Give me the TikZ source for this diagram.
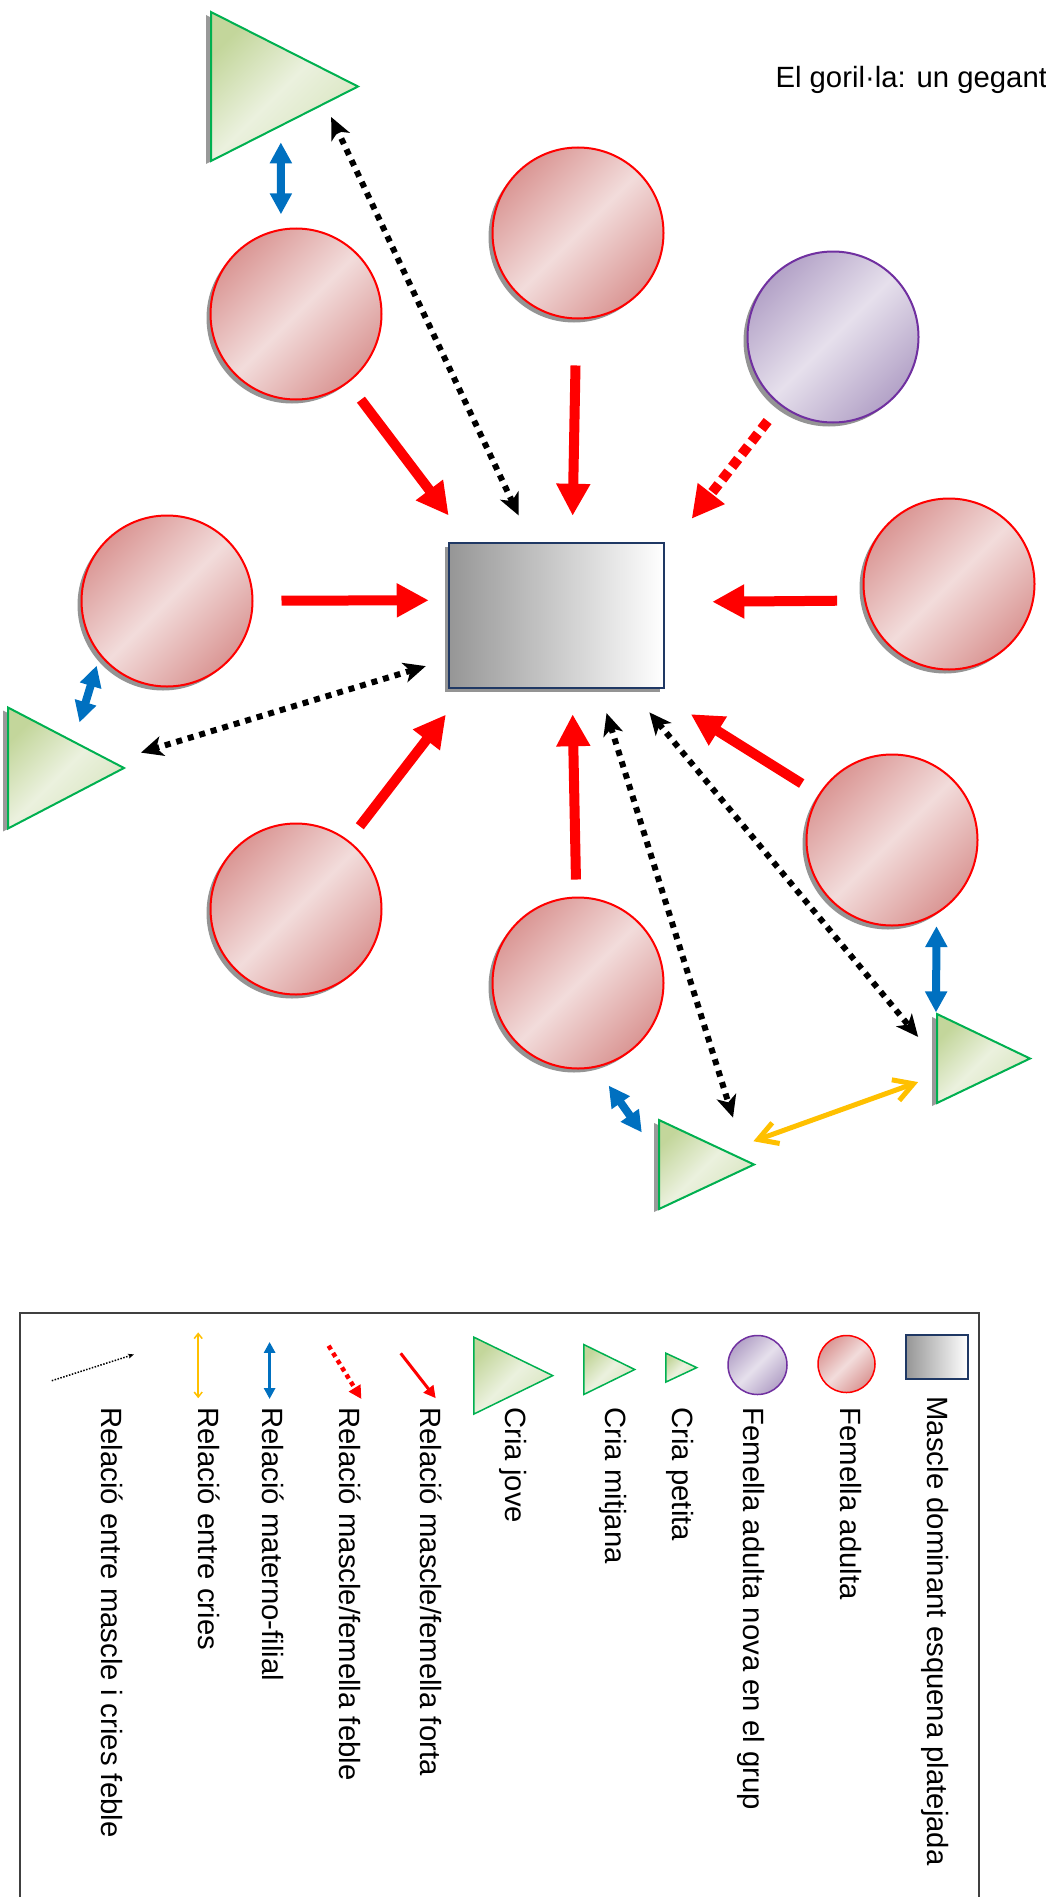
\documentclass[tikz,border=0pt]{standalone}
\usepackage{fontspec}
\setmainfont{Liberation Sans}
\usepackage{tikz}
\usetikzlibrary{shapes.geometric,arrows.meta,shadows,calc}
\definecolor{rosafosc}{RGB}{218,150,148}
\definecolor{rosaclar}{RGB}{242,220,219}
\definecolor{lilafosc}{RGB}{179,162,199}
\definecolor{lilaclar}{RGB}{230,224,236}
\definecolor{lilavora}{RGB}{112,48,160}
\definecolor{verdfosc}{RGB}{195,214,155}
\definecolor{verdclar}{RGB}{235,241,222}
\definecolor{verdmig}{RGB}{215,228,189}
\definecolor{verdvora}{RGB}{0,176,80}
\definecolor{blaumare}{RGB}{0,112,192}
\definecolor{groc}{RGB}{255,192,0}
\definecolor{blaufosc}{RGB}{31,56,100}
\definecolor{grisfosc}{RGB}{150,150,150}

\begin{document}
\begin{tikzpicture}[x=1pt,y=-1pt,
  ombra/.style={drop shadow={shadow xshift=-4pt,shadow yshift=-4pt,fill=black!42,opacity=1}},
  femella/.style={circle,draw=red,line width=2pt,inner sep=0pt,
    top color=rosafosc,bottom color=rosafosc,middle color=rosaclar,shading angle=45},
  nova/.style={circle,draw=lilavora,line width=2pt,inner sep=0pt,
    top color=lilafosc,bottom color=lilafosc,middle color=lilaclar,shading angle=45},
  mascle/.style={rectangle,draw=blaufosc,line width=2.5pt,inner sep=0pt,
    left color=grisfosc,right color=white},
  cria/.style={isosceles triangle,isosceles triangle stretches,draw=verdvora,line width=2pt,
    inner sep=0pt,anchor=lower side,
    top color=verdfosc,bottom color=verdmig,middle color=verdclar,shading angle=45},
  ombracria/.style={drop shadow={shadow xshift=-5pt,shadow yshift=-3pt,fill=black!40,opacity=1}},
  forta/.style={draw=red,line width=10pt,-{Triangle[length=32pt,width=32pt]}},
  feble/.style={draw=red,line width=10pt,dash pattern=on 10pt off 6pt,-{Triangle[length=32pt,width=32pt]}},
  debil/.style={draw=black,line width=6pt,dash pattern=on 6pt off 6pt,
    arrows={Stealth[length=22pt,width=20pt,inset=6pt]-Stealth[length=22pt,width=20pt,inset=6pt]}},
  materna/.style={draw=blaumare,line width=8pt,
    arrows={Triangle[length=21pt,width=21pt]-Triangle[length=21pt,width=21pt]}},
  entrecries/.style={draw=groc,line width=5pt,line cap=round,
    arrows={Straight Barb[length=19pt,width=22pt]-Straight Barb[length=19pt,width=22pt]}},
  llegenda/.style={rotate=-90,anchor=base west,font=\fontsize{29.3}{34}\selectfont}]

\useasboundingbox (0,0) rectangle (1046,1897);

% Title
\node[anchor=base west,font=\fontsize{29.3}{34}\selectfont] (titol) at (772,88) {El goril·la: un gegant};

% Dominant male in the middle
\node[mascle,ombra,minimum width=215pt,minimum height=145pt] (mascle) at (556.5,615.5) {};

% Adult females around him
\node[femella,ombra,minimum size=171pt] (fem1) at (296,314) {};
\node[femella,ombra,minimum size=171pt] (fem2) at (578,233) {};
\node[nova,ombra,minimum size=171pt] (nova) at (833,337) {};
\node[femella,ombra,minimum size=171pt] (fem4) at (949,584) {};
\node[femella,ombra,minimum size=171pt] (fem5) at (167,601) {};
\node[femella,ombra,minimum size=171pt] (fem6) at (296,909) {};
\node[femella,ombra,minimum size=171pt] (fem7) at (578,983) {};
\node[femella,ombra,minimum size=171pt] (fem8) at (892,840) {};

% Young ones
\node[cria,ombracria,minimum width=149pt,minimum height=147pt] (cria1) at (210,86.5) {};
\node[cria,ombracria,minimum width=121pt,minimum height=116pt] (cria2) at (7,768) {};
\node[cria,ombracria,minimum width=89pt,minimum height=95pt] (cria3) at (658,1164.5) {};
\node[cria,ombracria,minimum width=89pt,minimum height=93pt] (cria4) at (936,1058.5) {};

% Male/female relations
\draw[forta,shorten <=21pt,shorten >=33pt] (fem1) -- (mascle.140);
\draw[forta,shorten <=46pt,shorten >=26pt] (fem2) -- (mascle.78);
\draw[feble,shorten <=20pt,shorten >=43pt] (nova) -- (mascle.30.6);
\draw[forta,shorten <=27pt,shorten >=47pt] (fem4.191.4) -- (mascle.7.7);
\draw[forta,shorten <=28pt,shorten >=19pt] (fem5) -- (mascle.172.3);
\draw[forta,shorten <=18pt,shorten >=32pt] (fem6) -- (mascle.-141);
\draw[forta,shorten <=17pt,shorten >=25pt] (fem7) -- (mascle.-78);
\draw[forta,shorten <=20pt,shorten >=47pt] (fem8) -- (mascle.-38.4);

% Male and young ones (weak)
\draw[debil,shorten <=29pt,shorten >=14pt] (mascle.109.4) -- ($(cria1.apex)!0.235!(cria1.right corner)$);
\draw[debil,shorten <=23pt,shorten >=29pt] (mascle.-158.4) -- ($(cria2.apex)!0.112!(cria2.left corner)$);
\draw[debil,shorten <=25pt,shorten >=44pt] (mascle.-60.2) -- ($(cria3.apex)!0.106!(cria3.left corner)$);
\draw[debil,shorten <=30pt,shorten >=28pt] (mascle.-45) -- (cria4.lower side);

% Mother and young
\draw[materna,shorten <=15.5pt,shorten >=14.5pt] ($(cria1.apex)!0.53!(cria1.right corner)$) -- (fem1.100.7);
\draw[materna,shorten <=10.6pt,shorten >=19pt] (fem5.-141.3) -- ($(cria2.apex)!0.44!(cria2.left corner)$);
\draw[materna,shorten <=22pt,shorten >=28pt] (fem7.-78.3) -- ($(cria3.left corner)!0.4!(cria3.right corner)$);
\draw[materna,shorten <=12pt] (fem8.-59.2) -- (cria4.left corner);

% Between young ones
\draw[entrecries,shorten <=28pt,shorten >=19pt] ($(cria3.apex)!0.3!(cria3.left corner)$) -- ($(cria4.left corner)!0.686!(cria4.right corner)$);

% Legend box
\draw[line width=2pt,black!75] (20,1313) rectangle (979,1905);

% Legend symbols
\node[mascle,line width=1.5pt,minimum width=62pt,minimum height=44pt] (lmascle) at (937,1357) {};
\node[femella,line width=1.5pt,minimum size=57pt] (lfem) at (846.5,1364) {};
\node[nova,line width=1.5pt,minimum size=59pt] (lnova) at (757.5,1365) {};
\node[cria,line width=1.5pt,minimum width=29pt,minimum height=31pt] (lpetita) at (665,1367.6) {};
\node[cria,line width=1.5pt,minimum width=50pt,minimum height=51pt] (lmitjana) at (583,1369.5) {};
\node[cria,line width=1.5pt,minimum width=77pt,minimum height=79pt] (ljove) at (473,1375.6) {};

\coordinate (lforta1) at (400.7,1353.3);  \coordinate (lforta2) at (435.7,1398.2);
\coordinate (lfeble1) at (328.6,1345.7);  \coordinate (lfeble2) at (361.4,1399);
\coordinate (lmater1) at (269.6,1341.9);  \coordinate (lmater2) at (269.6,1399);
\coordinate (lcries1) at (198.2,1332.4);  \coordinate (lcries2) at (198.2,1398.2);
\coordinate (ldebil1) at (51.8,1380.7);   \coordinate (ldebil2) at (133.9,1354.4);

\draw[draw=red,line width=3pt,-{Triangle[length=12pt,width=12pt]}] (lforta1) -- (lforta2);
\draw[draw=red,line width=4.5pt,dash pattern=on 4.5pt off 4pt,-{Triangle[length=13pt,width=13pt]}] (lfeble1) -- (lfeble2);
\draw[draw=blaumare,line width=3.5pt,arrows={Triangle[length=11pt,width=11pt]-Triangle[length=11pt,width=11pt]}] (lmater1) -- (lmater2);
\draw[draw=groc,line width=1.5pt,arrows={Straight Barb[length=5pt,width=8pt]-Straight Barb[length=5pt,width=8pt]}] (lcries1) -- (lcries2);
\draw[draw=black,line width=1.5pt,dash pattern=on 1.5pt off 1.5pt,-{Stealth[length=6pt,width=5pt]}] (ldebil1) -- (ldebil2);

% Legend texts
\node[llegenda] (tmascle) at (927,1393) {Mascle dominant esquena platejada};
\node[llegenda] (tfem) at (840,1404) {Femella adulta};
\node[llegenda] (tnova) at (743,1404) {Femella adulta nova en el grup};
\node[llegenda] (tpetita) at (672,1404) {Cria petita};
\node[llegenda] (tmitjana) at (605,1404) {Cria mitjana};
\node[llegenda] (tjove) at (505,1404) {Cria jove};
\node[llegenda] (tforta) at (420,1404) {Relació mascle/femella forta};
\node[llegenda] (tfeble) at (339,1404) {Relació mascle/femella feble};
\node[llegenda] (tmater) at (262,1404) {Relació materno-filial};
\node[llegenda] (tcries) at (198,1404) {Relació entre cries};
\node[llegenda] (tdebil) at (101,1404) {Relació entre mascle i cries feble};

\end{tikzpicture}
\end{document}
